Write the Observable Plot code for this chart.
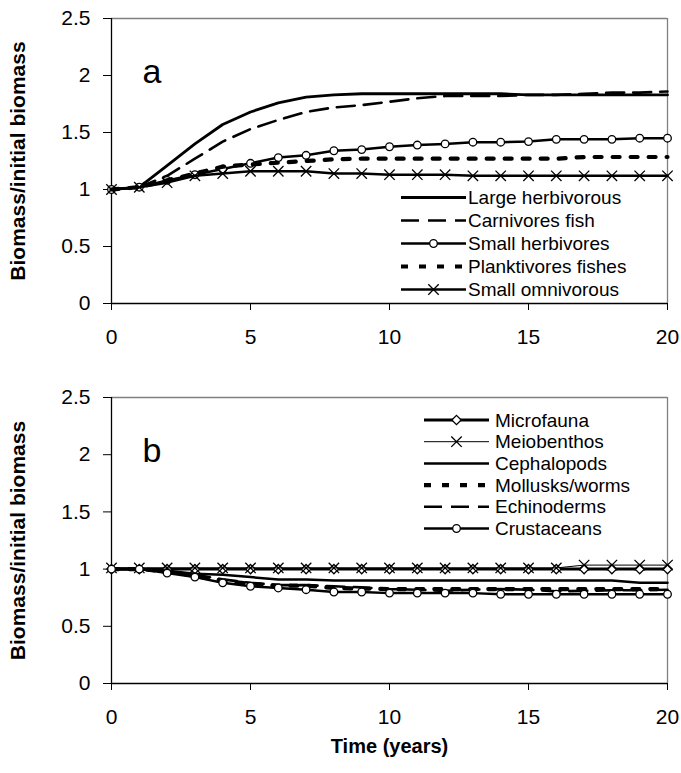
<!DOCTYPE html>
<html><head><meta charset="utf-8">
<script src="https://cdn.jsdelivr.net/npm/d3@7"></script>
<script src="https://cdn.jsdelivr.net/npm/@observablehq/plot@0.6"></script>
<style>
body{margin:0;background:#fff;font-family:"Liberation Sans",Arial,sans-serif;}
#chart{position:relative;width:681px;height:773px;}
#chart svg{display:block;}
</style></head><body><div id="chart"></div>
<script>
const years = [0,1,2,3,4,5,6,7,8,9,10,11,12,13,14,15,16,17,18,19,20];
const xTicks = [0,5,10,15,20];
const yTicks = [0,0.5,1,1.5,2,2.5];
const yTitle = "Biomass/initial biomass";
const xTitle = "Time (years)";

// Panel a
const largeHerbivorous = [1.00,1.02,1.21,1.40,1.57,1.68,1.76,1.81,1.83,1.84,1.84,1.84,1.84,1.84,1.84,1.83,1.83,1.83,1.83,1.83,1.83];
const carnivoresFish   = [1.00,1.02,1.12,1.27,1.42,1.53,1.61,1.68,1.72,1.74,1.77,1.80,1.82,1.82,1.82,1.83,1.83,1.84,1.85,1.85,1.86];
const smallHerbivores  = [1.00,1.02,1.08,1.13,1.18,1.23,1.28,1.30,1.34,1.35,1.375,1.39,1.40,1.415,1.415,1.42,1.44,1.44,1.44,1.45,1.45];
const planktivores     = [1.00,1.02,1.08,1.14,1.20,1.22,1.235,1.25,1.265,1.27,1.27,1.27,1.27,1.27,1.27,1.27,1.27,1.285,1.285,1.285,1.285];
const smallOmnivorous  = [1.00,1.02,1.06,1.12,1.14,1.16,1.16,1.16,1.14,1.14,1.13,1.13,1.13,1.12,1.12,1.12,1.12,1.12,1.12,1.12,1.12];

// Panel b
const microfauna   = [1,1,1,1,1,1,1,1,1,1,1,1,1,1,1,1,1,1,1,1,1];
const meiobenthos  = [1.01,1.01,1.01,1.01,1.01,1.01,1.01,1.01,1.01,1.01,1.01,1.01,1.01,1.01,1.01,1.01,1.01,1.035,1.035,1.035,1.035];
const cephalopods  = [1.00,1.00,0.985,0.96,0.95,0.93,0.91,0.91,0.90,0.90,0.90,0.90,0.90,0.90,0.90,0.90,0.90,0.90,0.90,0.88,0.88];
const mollusks     = [1.00,1.00,0.98,0.94,0.90,0.87,0.855,0.855,0.835,0.83,0.825,0.825,0.825,0.825,0.825,0.825,0.825,0.825,0.825,0.825,0.825];
const echinoderms  = [1.00,1.00,0.98,0.95,0.91,0.88,0.86,0.86,0.85,0.84,0.825,0.82,0.81,0.82,0.825,0.82,0.805,0.81,0.815,0.815,0.82];
const crustaceans  = [1.00,1.00,0.965,0.93,0.88,0.85,0.835,0.82,0.80,0.80,0.79,0.79,0.79,0.79,0.78,0.78,0.78,0.78,0.78,0.78,0.78];

const seriesA = [
  {name:"Large herbivorous",   values:largeHerbivorous, width:2.8},
  {name:"Carnivores fish",     values:carnivoresFish,   width:2.6, dash:"18,9"},
  {name:"Small herbivores",    values:smallHerbivores,  width:2.5, symbol:"circle"},
  {name:"Planktivores fishes", values:planktivores,     width:4.2, dash:"7,11"},
  {name:"Small omnivorous",    values:smallOmnivorous,  width:2.5, symbol:"times"}
];
const seriesB = [
  {name:"Microfauna",     values:microfauna,  width:3,   symbol:"diamond2"},
  {name:"Meiobenthos",    values:meiobenthos, width:1,   symbol:"times"},
  {name:"Cephalopods",    values:cephalopods, width:2.5},
  {name:"Mollusks/worms", values:mollusks,    width:4.2, dash:"7,11"},
  {name:"Echinoderms",    values:echinoderms, width:2.6, dash:"18,9"},
  {name:"Crustaceans",    values:crustaceans, width:2.5, symbol:"circle"}
];

const symR = {circle:3.8, times:4.8, diamond2:4.2};
const d3Sym = {circle:d3.symbolCircle, times:d3.symbolTimes, diamond2:d3.symbolDiamond2};

function makePanel(series, letter, {height, marginTop, marginBottom, showX}) {
  const marks = [
    Plot.ruleY([2.5], {stroke:"#808080", strokeWidth:1.3}),
    Plot.ruleX([20], {stroke:"#808080", strokeWidth:1.3}),
    Plot.axisY({ticks:yTicks, tickSize:8, tickPadding:13, tickFormat:d=>String(d), label:null}),
    Plot.axisX({ticks:xTicks, tickSize:7, tickPadding:19, tickFormat:d=>String(d), label:null}),
    Plot.ruleX([0], {stroke:"black", strokeWidth:1.3}),
    Plot.ruleY([0], {stroke:"black", strokeWidth:1.3}),
    Plot.text([letter], {text:d=>d, frameAnchor:"top-left", dx:31, dy:40, fontSize:34, textAnchor:"start"}),
    Plot.text([yTitle], {text:d=>d, frameAnchor:"left", rotate:-90, dx:-93, fontSize:21, fontWeight:"bold", textAnchor:"middle"})
  ];
  if (showX) marks.push(Plot.text([xTitle], {text:d=>d, frameAnchor:"bottom", dy:69, fontSize:20, fontWeight:"bold"}));
  for (const s of series) {
    const rows = s.values.map((v,i)=>({x:years[i], y:v}));
    marks.push(Plot.line(rows, {x:"x", y:"y", stroke:"black", strokeWidth:s.width, strokeDasharray:s.dash, strokeLinejoin:"round", curve:"linear"}));
    if (s.symbol) marks.push(Plot.dot(rows, {x:"x", y:"y", symbol:s.symbol, r:symR[s.symbol], stroke:"black", strokeWidth:1.3, fill: s.symbol==="times" ? "none" : "white"}));
  }
  return Plot.plot({
    width:681, height, marginTop, marginBottom, marginLeft:111, marginRight:14,
    x:{domain:[0,20]}, y:{domain:[0,2.5]},
    style:{fontFamily:"'Liberation Sans', Arial, sans-serif", fontSize:"21px", color:"black", background:"white", overflow:"visible"},
    marks
  });
}

function addLegend(svg, series, {x1, x2, tx, y0, dy, fontSize}) {
  const g = d3.select(svg).append("g").attr("font-family","'Liberation Sans', Arial, sans-serif").attr("text-anchor","start");
  series.forEach((s,i)=>{
    const y = y0 + i*dy;
    g.append("line").attr("x1",x1).attr("x2",x2).attr("y1",y).attr("y2",y)
      .attr("stroke","black").attr("stroke-width",s.width).attr("stroke-dasharray",s.dash||null);
    if (s.symbol) {
      const r = symR[s.symbol];
      g.append("path").attr("d", d3.symbol(d3Sym[s.symbol], Math.PI*r*r)())
        .attr("transform",`translate(${(x1+x2)/2},${y})`)
        .attr("stroke","black").attr("stroke-width",1.3)
        .attr("fill", s.symbol==="times" ? "none" : "white");
    }
    g.append("text").attr("x",tx).attr("y",y).attr("dy","0.35em").attr("font-size",fontSize)
      .attr("text-anchor","start").attr("fill","black").text(s.name);
  });
}

const chart = document.getElementById("chart");
const pa = makePanel(seriesA, "a", {height:350, marginTop:18, marginBottom:47, showX:false});
addLegend(pa, seriesA, {x1:401, x2:466, tx:468, y0:197.5, dy:23, fontSize:19});
chart.appendChild(pa);
const pb = makePanel(seriesB, "b", {height:423, marginTop:47, marginBottom:90, showX:true});
addLegend(pb, seriesB, {x1:424, x2:489, tx:495, y0:70, dy:21.7, fontSize:19});
chart.appendChild(pb);
</script></body></html>
